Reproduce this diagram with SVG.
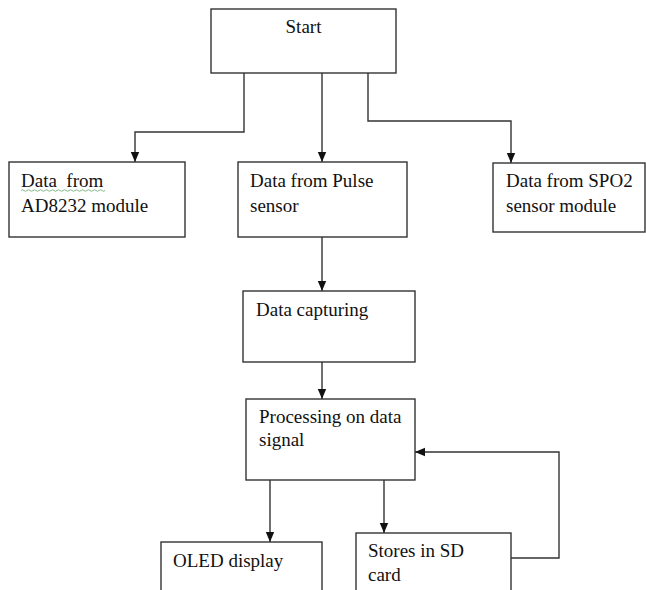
<svg xmlns="http://www.w3.org/2000/svg" width="646" height="590" viewBox="0 0 646 590">
<defs>
<marker id="ah" markerUnits="userSpaceOnUse" markerWidth="10" markerHeight="10" viewBox="0 0 10 10" refX="10" refY="5" orient="auto">
<path d="M0,0.8 L10,5 L0,9.2 Z" fill="#111"/>
</marker>
<style>
.box{fill:#fff;stroke:#333;stroke-width:1.4}
.t{font-family:"Liberation Serif","Times New Roman",serif;font-size:19px;fill:#111;white-space:pre}
.c{fill:none;stroke:#333;stroke-width:1.4}
.a{marker-end:url(#ah)}
</style>
</defs>
<rect width="646" height="590" fill="#fff"/>
<g id="connectors">
<path class="c a" d="M244,73 V132 H135 V162"/>
<path class="c a" d="M322,73 V162"/>
<path class="c a" d="M368,73 V121 H511 V163"/>
<path class="c a" d="M322,237 V291"/>
<path class="c a" d="M322,362 V399"/>
<path class="c a" d="M270,480 V542"/>
<path class="c a" d="M384,480 V533"/>
<path class="c a" d="M511,558 H559 V452 H415"/>
</g>
<g id="start">
<rect class="box" x="211" y="9" width="185" height="64"/>
<text class="t" x="303.5" y="33" text-anchor="middle">Start</text>
</g>
<g id="ad8232">
<rect class="box" x="9" y="162" width="176" height="75"/>
<text class="t" x="21" y="187">Data  from</text>
<path d="M21,190.5 q1.5,-1.5 3,0 t3,0 t3,0 t3,0 t3,0 t3,0 t3,0 t3,0 t3,0 t3,0 t3,0 t3,0 t3,0 t3,0 t3,0 t3,0 t3,0 t3,0 t3,0 t3,0 t3,0 t3,0 t3,0 t3,0 t3,0 t3,0 t3,0 t3,0" fill="none" stroke="#6a6" stroke-width="0.8"/>
<text class="t" x="21" y="212">AD8232 module</text>
</g>
<g id="pulse">
<rect class="box" x="238" y="162" width="169" height="75"/>
<text class="t" x="250" y="187">Data from Pulse</text>
<text class="t" x="250" y="212">sensor</text>
</g>
<g id="spo2">
<rect class="box" x="493" y="163" width="152" height="69"/>
<text class="t" x="506" y="187">Data from SPO2</text>
<text class="t" x="506" y="212">sensor module</text>
</g>
<g id="capture">
<rect class="box" x="243" y="291" width="172" height="71"/>
<text class="t" x="256" y="316">Data capturing</text>
</g>
<g id="process">
<rect class="box" x="246" y="399" width="169" height="81"/>
<text class="t" x="259" y="423">Processing on data</text>
<text class="t" x="259" y="446">signal</text>
</g>
<g id="oled">
<rect class="box" x="161" y="542" width="161" height="60"/>
<text class="t" x="173" y="567">OLED display</text>
</g>
<g id="sd">
<rect class="box" x="356" y="533" width="155" height="69"/>
<text class="t" x="368" y="557">Stores in SD</text>
<text class="t" x="368" y="581">card</text>
</g>
</svg>
